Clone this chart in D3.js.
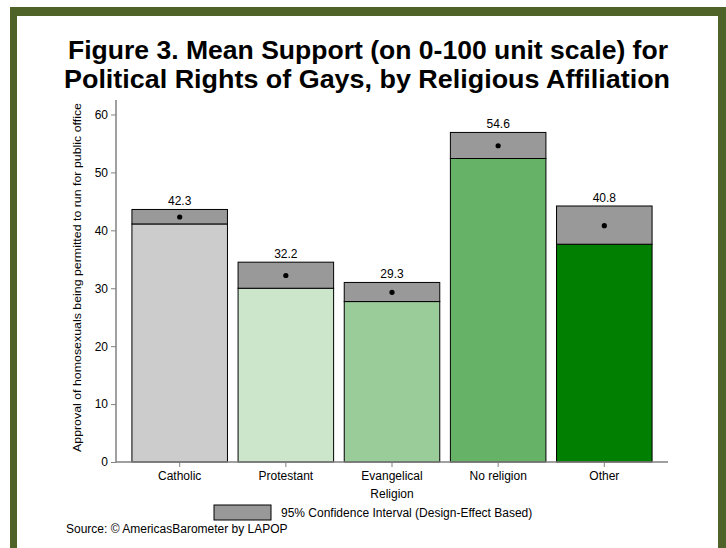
<!DOCTYPE html>
<html>
<head>
<meta charset="utf-8">
<script src="https://cdn.jsdelivr.net/npm/d3@7"></script>
<style>
html,body{margin:0;padding:0;background:#fff;}
svg{display:block;font-family:"Liberation Sans",Arial,sans-serif;}
</style>
</head>
<body>
<svg id="chart" width="726" height="548"></svg>
<script>
const categories = ["Catholic", "Protestant", "Evangelical", "No religion", "Other"];
const means = [42.3, 32.2, 29.3, 54.6, 40.8];
const ciLow = [41.1, 30.0, 27.7, 52.4, 37.6];
const ciHigh = [43.6, 34.5, 31.0, 56.9, 44.2];
const barColors = ["#cccccc", "#cce6cc", "#99cc99", "#66b266", "#007f00"];
const yTicks = [0, 10, 20, 30, 40, 50, 60];
const titleLines = ["Figure 3. Mean Support (on 0-100 unit scale) for", "Political Rights of Gays, by Religious Affiliation"];

const svg = d3.select("#chart");
// frame
svg.append("rect").attr("x", 10).attr("y", 7).attr("width", 716).attr("height", 541).attr("fill", "#4f6228");
svg.append("rect").attr("x", 17).attr("y", 16).attr("width", 701).attr("height", 532).attr("fill", "#ffffff");

// title
svg.selectAll("text.title").data(titleLines).join("text")
  .attr("class", "title")
  .attr("x", (d, i) => i === 0 ? 68 : 64)
  .attr("y", (d, i) => 59 + i * 28.7)
  .attr("textLength", (d, i) => i === 0 ? 600 : 606)
  .attr("lengthAdjust", "spacingAndGlyphs")
  .attr("font-size", 26).attr("font-weight", "bold").attr("fill", "#000")
  .text(d => d);

const x = d3.scaleBand().domain(categories).range([116, 668]).paddingInner(0.1).paddingOuter(0.15);
const y = d3.scaleLinear().domain([0, 62.5]).range([462, 100]);

const data = categories.map((c, i) => ({c, m: means[i], lo: ciLow[i], hi: ciHigh[i], col: barColors[i]}));

// bars
const g = svg.append("g");
g.selectAll("rect.bar").data(data).join("rect")
  .attr("x", d => x(d.c)).attr("width", x.bandwidth())
  .attr("y", d => y(d.lo)).attr("height", d => y(0) - y(d.lo))
  .attr("fill", d => d.col).attr("stroke", "#000").attr("stroke-width", 1);
g.selectAll("rect.ci").data(data).join("rect")
  .attr("x", d => x(d.c)).attr("width", x.bandwidth())
  .attr("y", d => y(d.hi)).attr("height", d => y(d.lo) - y(d.hi))
  .attr("fill", "#999999").attr("stroke", "#000").attr("stroke-width", 1);
g.selectAll("circle").data(data).join("circle")
  .attr("cx", d => x(d.c) + x.bandwidth() / 2).attr("cy", d => y(d.m)).attr("r", 2.6).attr("fill", "#000");
g.selectAll("text.val").data(data).join("text")
  .attr("x", d => x(d.c) + x.bandwidth() / 2).attr("y", d => y(d.hi) - 4)
  .attr("text-anchor", "middle").attr("font-size", 12).attr("fill", "#000")
  .text(d => d.m.toFixed(1));

// axes
const yAxis = svg.append("g").attr("transform", "translate(116,0)")
  .call(d3.axisLeft(y).tickValues(yTicks).tickSize(5).tickPadding(3).tickSizeOuter(0));
const xAxis = svg.append("g").attr("transform", "translate(0,462)")
  .call(d3.axisBottom(x).tickSize(5).tickPadding(4).tickSizeOuter(0));
[yAxis, xAxis].forEach(a => {
  a.select(".domain").attr("stroke", "#808080").attr("stroke-width", 1.5);
  a.selectAll(".tick line").attr("stroke", "#808080");
  a.selectAll(".tick text").attr("font-size", 12).attr("fill", "#000").attr("font-family", "Liberation Sans, Arial, sans-serif");
});
yAxis.select(".domain").attr("d", `M0,${y(0)}V100`);
xAxis.select(".domain").attr("d", "M116,0H668");

// axis titles
svg.append("text").attr("transform", "translate(81,277.5) rotate(-90)")
  .attr("text-anchor", "middle").attr("font-size", 11.5).attr("fill", "#000")
  .attr("textLength", 349).attr("lengthAdjust", "spacingAndGlyphs")
  .text("Approval of homosexuals being permitted to run for public office");
svg.append("text").attr("x", x.range()[0] + (x.range()[1] - x.range()[0]) / 2).attr("y", 498)
  .attr("text-anchor", "middle").attr("font-size", 12).attr("fill", "#000").text("Religion");

// legend
svg.append("rect").attr("x", 214).attr("y", 505).attr("width", 57).attr("height", 15)
  .attr("fill", "#999999").attr("stroke", "#000").attr("stroke-width", 1);
svg.append("text").attr("x", 281).attr("y", 516.5).attr("font-size", 12).attr("fill", "#000")
  .text("95% Confidence Interval (Design-Effect Based)");
svg.append("text").attr("x", 66).attr("y", 533).attr("font-size", 12).attr("fill", "#000")
  .text("Source: © AmericasBarometer by LAPOP");
</script>
</body>
</html>
